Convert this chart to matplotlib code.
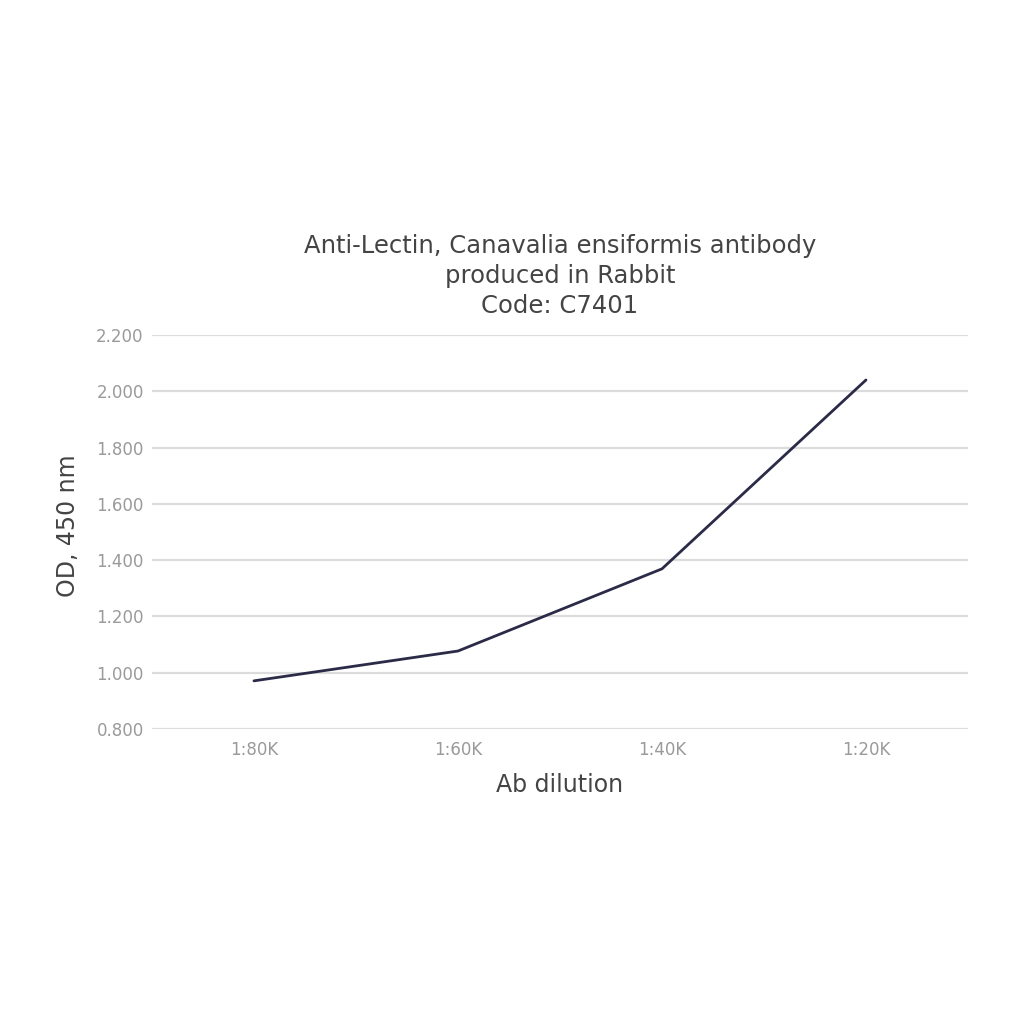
import matplotlib
matplotlib.use("Agg")
import matplotlib.pyplot as plt
from matplotlib.ticker import FuncFormatter

categories = ["1:80K", "1:60K", "1:40K", "1:20K"]
od_values = [0.971, 1.077, 1.369, 2.040]
y_ticks = [0.8, 1.0, 1.2, 1.4, 1.6, 1.8, 2.0, 2.2]

plt.rcParams['font.family'] = ['DejaVu Sans']
fig = plt.figure(figsize=(10.24, 10.24), dpi=100)
ax = fig.add_axes([0.1484, 0.2881, 0.7969, 0.3848])

x = list(range(len(categories)))
ax.plot(x, od_values, color="#2b2b48", linewidth=2.0, solid_capstyle="round")

ax.set_xlim(-0.5, len(categories) - 0.5)
ax.set_ylim(0.8, 2.2)
ax.set_yticks(y_ticks)
ax.yaxis.set_major_formatter(FuncFormatter(lambda v, p: f"{v:.3f}"))
ax.set_xticks(x)
ax.set_xticklabels(categories)
ax.grid(axis="y", color="#dcdcdc", linewidth=1.6)
ax.set_axisbelow(True)
for s in ax.spines.values():
    s.set_visible(False)
ax.tick_params(axis="both", length=0, labelsize=12, labelcolor="#9a9a9a")
ax.tick_params(axis="y", pad=6)
ax.tick_params(axis="x", pad=9)

ax.set_title("Anti-Lectin, Canavalia ensiformis antibody\nproduced in Rabbit\nCode: C7401",
             fontsize=17.5, color="#444444", pad=16, linespacing=1.3)
ax.set_xlabel("Ab dilution", fontsize=17, color="#444444", labelpad=10)
ax.set_ylabel("OD, 450 nm", fontsize=17, color="#444444")
ax.yaxis.set_label_coords(-0.088, 0.515)

fig.savefig("out.png", dpi=100, facecolor="white")
